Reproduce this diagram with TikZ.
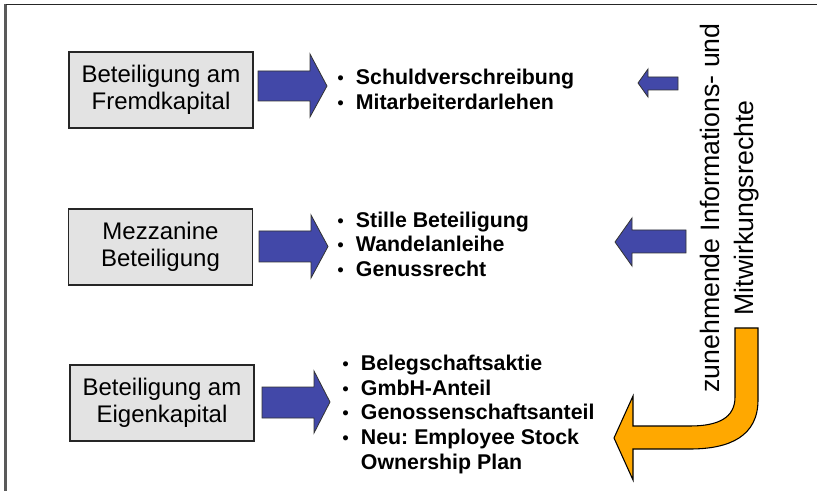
\documentclass[tikz,border=0pt]{standalone}
\usepackage{fontspec}
\setmainfont{Liberation Sans}
\definecolor{arrowblue}{RGB}{66,72,168}
\definecolor{arroworange}{RGB}{255,168,0}
\definecolor{boxgray}{RGB}{227,227,227}
\definecolor{framegray}{RGB}{90,90,90}
\tikzset{
  catbox/.style={draw=black!85, line width=1.2pt, fill=boxgray, minimum width=138pt, minimum height=57pt,
    align=center, inner sep=0pt, font=\fontsize{18}{20.5}\selectfont},
  listnode/.style={anchor=west, inner sep=0pt, align=left, font=\bfseries\fontsize{16}{18.6}\selectfont},
  blockarrow/.style={draw=black!80, line width=0.6pt, fill=arrowblue, line join=miter},
  bendarrow/.style={draw=black, line width=0.8pt, fill=arroworange, line join=miter},
  rottext/.style={rotate=90, align=center, inner sep=0pt, font=\fontsize{20}{25.5}\selectfont}
}
\newcommand{\bl}{\makebox[14pt][l]{\normalfont\fontsize{14}{16}\selectfont\textbullet}}
\begin{document}
\frenchspacing
\begin{tikzpicture}[x=0.75pt,y=-0.75pt]
\useasboundingbox (0,0) rectangle (817,491);
\fill[white] (0,0) rectangle (817,491);
% frame
\draw[framegray, line width=1.6pt] (5.5,491) -- (5.5,4.5);
\draw[black!85, line width=1.4pt] (5.5,4.5) -- (817,4.5);

% category boxes
\node[catbox] (b1) at (161,90) {Beteiligung am\\Fremdkapital};
\node[catbox] (b2) at (160.5,247) {Mezzanine\\Beteiligung};
\node[catbox] (b3) at (162,403) {Beteiligung am\\Eigenkapital};

% right block arrows
\draw[blockarrow] (258,71) -- (310,71) -- (310,54) -- (327,86) -- (310,117) -- (310,101) -- (258,101) -- cycle;
\draw[blockarrow] (259,231) -- (311,231) -- (311,215) -- (328,246.5) -- (311,278) -- (311,262) -- (259,262) -- cycle;
\draw[blockarrow] (262,387) -- (314,387) -- (314,371) -- (330,402) -- (314,433) -- (314,418) -- (262,418) -- cycle;

% lists
\node[listnode] (l1) at (337,92) {\begin{tabular}{@{}l@{}l@{}}\bl & Schuldverschreibung\\ \bl & Mitarbeiterdarlehen\end{tabular}};
\node[listnode] (l2) at (337,247) {\begin{tabular}{@{}l@{}l@{}}\bl & Stille Beteiligung\\ \bl & Wandelanleihe\\ \bl & Genussrecht\end{tabular}};
\node[listnode] (l3) at (342,415) {\begin{tabular}{@{}l@{}l@{}}\bl & Belegschaftsaktie\\ \bl & GmbH-Anteil\\ \bl & Genossenschaftsanteil\\ \bl & Neu: Employee Stock\\ & Ownership Plan\end{tabular}};

% left block arrows
\draw[blockarrow] (678,77) -- (648,77) -- (648,69) -- (638,83) -- (648,97) -- (648,90) -- (678,90) -- cycle;
\draw[blockarrow] (686,230) -- (632,230) -- (632,218) -- (615,242) -- (632,266) -- (632,253) -- (686,253) -- cycle;

% bent orange arrow
\draw[bendarrow] (735,328) -- (758,328) -- (758,400)
  .. controls (758,436) and (730,449) .. (690,449) -- (633,449) -- (633,480) -- (614,438)
  -- (633,396) -- (633,426) -- (690,426)
  .. controls (718,426) and (735,418) .. (735,397) -- cycle;

% rotated text
\node[rottext] (rt) at (730,208) {zunehmende Informations- und\\Mitwirkungsrechte};
\end{tikzpicture}
\end{document}
